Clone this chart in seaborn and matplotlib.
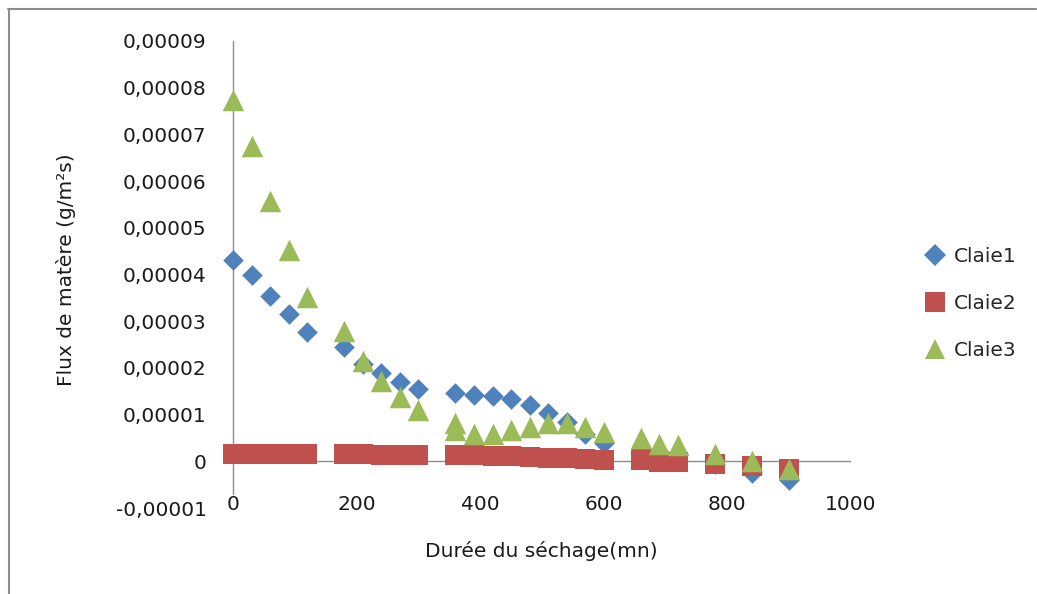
import matplotlib
matplotlib.use("Agg")
import matplotlib.pyplot as plt
import seaborn as sns
import pandas as pd
from matplotlib.lines import Line2D

# ---- data (flux in g/m2s, time in minutes) ----
x_common = [0, 30, 60, 90, 120, 180, 210, 240, 270, 300, 360, 390, 420, 450,
            480, 510, 540, 570, 600, 660, 690, 720, 780, 840, 900]
claie1 = [4.30, 3.98, 3.55, 3.16, 2.77, 2.45, 2.08, 1.89, 1.70, 1.54, 1.46, 1.43,
          1.39, 1.34, 1.20, 1.03, 0.84, 0.58, 0.40, 0.27, 0.20, 0.15, -0.05, -0.26, -0.40]
claie2 = [0.15, 0.15, 0.15, 0.16, 0.16, 0.16, 0.15, 0.14, 0.14, 0.13, 0.13, 0.13,
          0.12, 0.11, 0.10, 0.08, 0.06, 0.05, 0.03, 0.02, -0.01, -0.02, -0.05, -0.10, -0.16]
x_claie3 = [0, 30, 60, 90, 120, 180, 210, 240, 270, 300, 360, 360, 390, 420, 450,
            480, 510, 540, 570, 600, 660, 690, 720, 780, 840, 900]
claie3 = [7.74, 6.76, 5.57, 4.52, 3.52, 2.80, 2.15, 1.73, 1.38, 1.09, 0.83, 0.66, 0.58,
          0.58, 0.66, 0.74, 0.81, 0.81, 0.73, 0.63, 0.49, 0.38, 0.34, 0.16, 0.00, -0.16]
scale = 1e-5

series_names = ["Claie1", "Claie2", "Claie3"]
colors = {"Claie1": "#4F81BD", "Claie2": "#C0504D", "Claie3": "#9BBB59"}
markers = {"Claie1": "D", "Claie2": "s", "Claie3": "^"}
areas = {"Claie1": 110, "Claie2": 205, "Claie3": 240}

yticks = [-1e-5, 0, 1e-5, 2e-5, 3e-5, 4e-5, 5e-5, 6e-5, 7e-5, 8e-5, 9e-5]
ytick_labels = ["-0,00001", "0", "0,00001", "0,00002", "0,00003", "0,00004",
                "0,00005", "0,00006", "0,00007", "0,00008", "0,00009"]
xticks = [0, 200, 400, 600, 800, 1000]

df = pd.concat([
    pd.DataFrame({"t": x_common, "flux": [v * scale for v in claie1], "serie": "Claie1"}),
    pd.DataFrame({"t": x_common, "flux": [v * scale for v in claie2], "serie": "Claie2"}),
    pd.DataFrame({"t": x_claie3, "flux": [v * scale for v in claie3], "serie": "Claie3"}),
], ignore_index=True)

sns.set_theme(style="white")
plt.rcParams["font.family"] = ["DejaVu Sans"]

W, H = 1037, 594
fig = plt.figure(figsize=(W / 100, H / 100), dpi=100)
ax = fig.add_axes([233 / W, 1 - 508 / H, 618 / W, 467 / H])

for name in series_names:
    sub = df[df["serie"] == name]
    sns.scatterplot(data=sub, x="t", y="flux", ax=ax, color=colors[name],
                    marker=markers[name], s=areas[name], linewidth=0,
                    legend=False, clip_on=False, zorder=3)

ax.set_xlim(0, 1000)
ax.set_ylim(-1e-5, 9e-5)
ax.set_yticks(yticks)
ax.set_yticklabels(ytick_labels)
ax.set_xticks(xticks)
ax.set_xticklabels([str(v) for v in xticks])

for side in ["top", "right", "bottom"]:
    ax.spines[side].set_visible(False)
ax.spines["left"].set_color("#8c8c8c")
ax.spines["left"].set_linewidth(1.0)
ax.spines["left"].set_bounds(-0.7e-5, 9e-5)
ax.axhline(0, color="#8c8c8c", linewidth=1.0, zorder=1, xmin=0, xmax=1.003)

ax.tick_params(axis="y", length=0, pad=19, labelsize=14.5, labelcolor="#1a1a1a")
ax.tick_params(axis="x", length=0, pad=-9, labelsize=14.5, labelcolor="#1a1a1a")
ax.grid(False)

ax.set_xlabel("")
ax.set_ylabel("")
fig.text(541 / W, 1 - 551 / H, "Durée du séchage(mn)", ha="center", va="center",
         fontsize=14.5, color="#1a1a1a")
fig.text(66 / W, 1 - 270 / H, "Flux de matère (g/m²s)", ha="center", va="center",
         rotation=90, fontsize=14.5, color="#1a1a1a")

handles = [Line2D([], [], linestyle="none", marker=markers[n], color=colors[n],
                  markersize={"Claie1": 11, "Claie2": 14, "Claie3": 15}[n],
                  markeredgewidth=0) for n in series_names]
fig.legend(handles, series_names, loc="upper left",
           bbox_to_anchor=(925 / W, 1 - 247 / H), frameon=False,
           fontsize=14.5, labelspacing=1.4, handlelength=1.0, handletextpad=0.45,
           borderaxespad=0, borderpad=0)

# outer chart border (top and left edges visible)
border = "#8c8c8c"
fig.add_artist(Line2D([8 / W, 1036 / W], [1 - 9 / H, 1 - 9 / H],
                      transform=fig.transFigure, color=border, linewidth=1.5))
fig.add_artist(Line2D([9 / W, 9 / W], [0, 1 - 9 / H],
                      transform=fig.transFigure, color=border, linewidth=1.5))

fig.savefig("out.png", dpi=100)
